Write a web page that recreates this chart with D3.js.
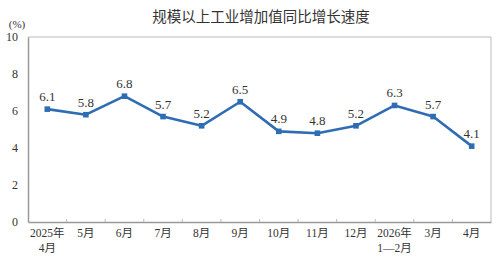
<!DOCTYPE html>
<html>
<head>
<meta charset="utf-8">
<script src="https://cdn.jsdelivr.net/npm/d3@7"></script>
<style>
  body { margin: 0; background: #fff; }
  svg text { fill: #333; }
</style>
</head>
<body>
<svg id="chart" width="500" height="261"></svg>
<script>
const months = ["2025年|4月", "5月", "6月", "7月", "8月", "9月", "10月", "11月", "12月", "2026年|1—2月", "3月", "4月"]
const growth = [6.1, 5.8, 6.8, 5.7, 5.2, 6.5, 4.9, 4.8, 5.2, 6.3, 5.7, 4.1]
const yTicks = [0, 2, 4, 6, 8, 10]

const svg = d3.select("#chart")
const plotLeft = 28, plotRight = 491, plotTop = 37, plotBottom = 222
const serif = "'Liberation Serif', 'Noto Sans CJK SC', serif"

const x = d3.scaleBand().domain(months).range([plotLeft, plotRight])
const y = d3.scaleLinear().domain([0, 10]).range([plotBottom, plotTop])

// title
svg.append("text")
    .attr("x", 261)
    .attr("y", 22)
    .attr("text-anchor", "middle")
    .attr("font-family", "'Noto Sans CJK SC', sans-serif")
    .attr("font-size", 14.5)
    .text("规模以上工业增加值同比增长速度")

svg.append("text")
    .attr("x", 17)
    .attr("y", 28)
    .attr("text-anchor", "middle")
    .attr("font-family", serif)
    .attr("font-size", 11)
    .text("(%)")

// frame top + right
svg.append("path")
    .attr("d", `M${plotLeft},${plotTop}H${plotRight}V${plotBottom}`)
    .attr("fill", "none")
    .attr("stroke", "#bbb")
    .attr("stroke-width", 1)

// y axis
const yAxis = svg.append("g")
    .attr("transform", `translate(${plotLeft},0)`)
    .call(d3.axisLeft(y).tickValues(yTicks).tickSize(0).tickPadding(10))
yAxis.select(".domain").attr("stroke", "#999").attr("stroke-width", 1.5)
yAxis.selectAll("text")
    .attr("font-family", serif)
    .attr("font-size", 12)
    .attr("fill", "#333")

// x axis
const xAxis = svg.append("g")
    .attr("transform", `translate(0,${plotBottom})`)
    .call(d3.axisBottom(x).tickSize(0).tickFormat(""))
xAxis.select(".domain").attr("stroke", "#999").attr("stroke-width", 1.5)

// inner tick marks between categories
svg.append("g")
    .selectAll("line")
    .data(months.slice(1))
    .join("line")
    .attr("x1", d => x(d))
    .attr("x2", d => x(d))
    .attr("y1", plotBottom)
    .attr("y2", plotBottom - 3)
    .attr("stroke", "#bbb")

const xl = svg.append("g")
    .selectAll("text")
    .data(months)
    .join("text")
    .attr("x", d => x(d) + x.bandwidth() / 2)
    .attr("y", 237)
    .attr("text-anchor", "middle")
    .attr("font-family", serif)
    .attr("font-size", 11.5)
xl.selectAll("tspan")
    .data(d => d.split("|"))
    .join("tspan")
    .attr("x", function () { return this.parentNode.getAttribute("x") })
    .attr("dy", (d, i) => i === 0 ? 0 : 15)
    .text(d => d)

// line
const pts = months.map((m, i) => [x(m) + x.bandwidth() / 2, y(growth[i])])

svg.append("path")
    .datum(pts)
    .attr("d", d3.line())
    .attr("fill", "none")
    .attr("stroke", "#2f6db3")
    .attr("stroke-width", 2.6)
    .attr("stroke-linejoin", "round")

svg.append("g")
    .selectAll("rect")
    .data(pts)
    .join("rect")
    .attr("x", d => d[0] - 2.8)
    .attr("y", d => d[1] - 2.8)
    .attr("width", 5.6)
    .attr("height", 5.6)
    .attr("fill", "#2f6db3")

svg.append("g")
    .selectAll("text")
    .data(growth)
    .join("text")
    .attr("x", (d, i) => pts[i][0])
    .attr("y", (d, i) => pts[i][1] - 8)
    .attr("text-anchor", "middle")
    .attr("font-family", serif)
    .attr("font-size", 13)
    .text(d => d.toFixed(1))
</script>
</body>
</html>
